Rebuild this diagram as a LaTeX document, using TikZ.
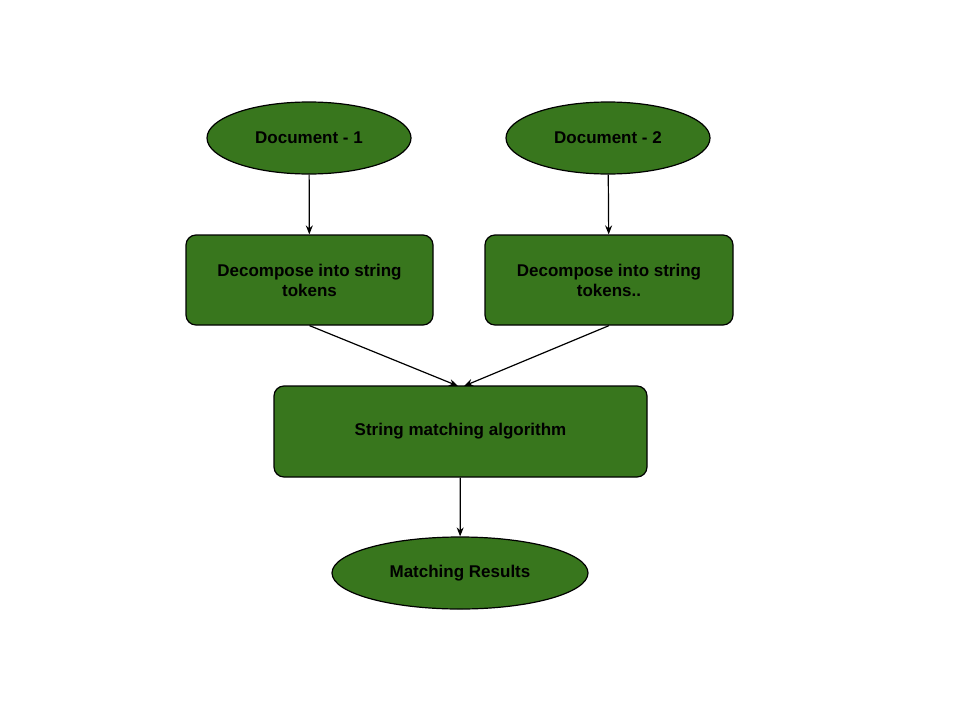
\documentclass[tikz,border=0pt]{standalone}
\usepackage{fontspec}
\setmainfont{Liberation Sans}
\usetikzlibrary{shapes.geometric,arrows.meta}
\begin{document}
\begin{tikzpicture}[x=1pt,y=-1pt,
  base/.style={draw=black,line width=1.2pt,fill={rgb,255:red,56;green,118;blue,29},font=\fontsize{17}{20}\selectfont\bfseries,align=center,inner sep=0pt},
  ell/.style={base,ellipse},
  box/.style={base,rounded corners=10pt},
  arr/.style={-{Stealth[length=9pt,width=7pt]},line width=1.2pt}]
\useasboundingbox (0,0) rectangle (960,720);
\node[ell,minimum width=204,minimum height=72] (d1) at (309,138) {Document - 1};
\node[ell,minimum width=204,minimum height=72] (d2) at (608,138) {Document - 2};
\node[box,minimum width=247,minimum height=90] (r1) at (309.5,280) {Decompose into string\\tokens};
\node[box,minimum width=248,minimum height=90] (r2) at (609,280) {Decompose into string\\tokens..};
\node[box,minimum width=373,minimum height=91] (s) at (460.5,431.5) {String matching algorithm};
\node[ell,minimum width=256,minimum height=72] (m) at (460,573) {Matching Results};
\coordinate (t1) at (458,386);
\coordinate (t2) at (464,386);
\draw[arr] (d1) -- (r1);
\draw[arr] (d2) -- (r2);
\draw[arr] (r1.south) -- (t1);
\draw[arr] (r2.south) -- (t2);
\draw[arr] (s) -- (m);
\end{tikzpicture}
\end{document}
